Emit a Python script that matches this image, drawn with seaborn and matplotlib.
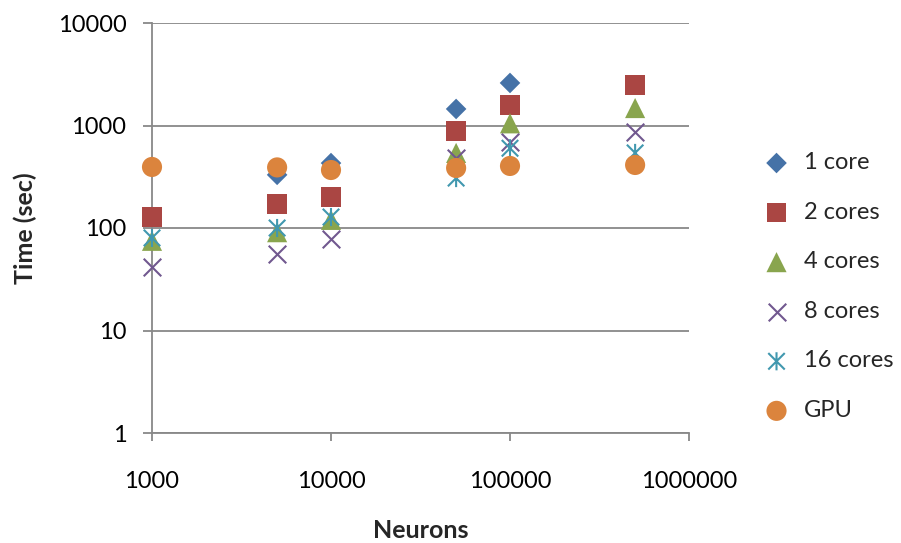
import numpy as np
import pandas as pd
import matplotlib
matplotlib.use("Agg")
import matplotlib.pyplot as plt
from matplotlib.path import Path
import seaborn as sns

# Problem sizes (number of neurons)
neurons = [1000, 5000, 10000, 50000, 100000, 500000]

# Run times in seconds per configuration (NaN = no measurement)
t_1core = [np.nan, 330, 430, 1450, 2600, np.nan]
t_2cores = [128, 171, 200, 884, 1590, 2480]
t_4cores = [75, 91, 120, 540, 1050, 1480]
t_8cores = [42, 56, 78, 480, 690, 865]
t_16cores = [80, 100, 128, 307, 600, 540]
t_gpu = [394, 390, 368, 385, 403, 412]

series_names = ["1 core", "2 cores", "4 cores", "8 cores", "16 cores", "GPU"]
series_values = [t_1core, t_2cores, t_4cores, t_8cores, t_16cores, t_gpu]

x_ticks = [1000, 10000, 100000, 1000000]
x_tick_labels = ["1000", "10000", "100000", "1000000"]
y_ticks = [1, 10, 100, 1000, 10000]
y_tick_labels = ["1", "10", "100", "1000", "10000"]

rows = []
for name, vals in zip(series_names, series_values):
    for n, v in zip(neurons, vals):
        rows.append({"Neurons": n, "Time": v, "Series": name})
df = pd.DataFrame(rows)

sns.set_theme(style="white")
plt.rcParams["font.family"] = ["Lato", "DejaVu Sans"]

# Asterisk marker: an X crossed by a vertical stroke
star_path = Path(
    [(-0.5, -0.5), (0.5, 0.5), (-0.5, 0.5), (0.5, -0.5), (0, -0.55), (0, 0.55)],
    [Path.MOVETO, Path.LINETO, Path.MOVETO, Path.LINETO, Path.MOVETO, Path.LINETO],
)

styles = {
    "1 core": dict(marker="D", color="#4572A7", s=110, linewidth=0),
    "2 cores": dict(marker="s", color="#AA4643", s=200, linewidth=0),
    "4 cores": dict(marker="^", color="#89A54E", s=210, linewidth=0),
    "8 cores": dict(marker="x", color="#71588F", s=160, linewidth=1.5),
    "16 cores": dict(marker=star_path, color="#4198AF", s=170, linewidth=1.5,
                     facecolor="none", edgecolor="#4198AF"),
    "GPU": dict(marker="o", color="#DB843D", s=210, linewidth=0),
}

fig = plt.figure(figsize=(9.01, 5.43), dpi=100)
ax = fig.add_axes([152 / 901, 1 - 433 / 543, (689 - 152) / 901, (433 - 23) / 543])

for name in series_names:
    sub = df[df["Series"] == name].dropna()
    st = dict(styles[name])
    if st["linewidth"] == 0:
        st["edgecolor"] = "none"
    sns.scatterplot(data=sub, x="Neurons", y="Time", ax=ax, label=name,
                    zorder=3, clip_on=False, **st)

ax.set_xscale("log")
ax.set_yscale("log")
ax.set_xlim(1000, 1000000)
ax.set_ylim(1, 10000)

grid_col = "#888888"
ax.yaxis.grid(True, color=grid_col, linewidth=1.3)
ax.xaxis.grid(False)
ax.set_axisbelow(True)
for side in ["top", "right"]:
    ax.spines[side].set_visible(False)
for side in ["left", "bottom"]:
    ax.spines[side].set_color(grid_col)
    ax.spines[side].set_linewidth(1.3)

ax.set_xticks(x_ticks)
ax.set_xticklabels(x_tick_labels)
ax.set_yticks(y_ticks)
ax.set_yticklabels(y_tick_labels)
ax.minorticks_off()
ax.tick_params(axis="x", which="major", direction="out", length=6, width=1.3,
               color=grid_col, labelsize=17, labelcolor="black", pad=21, bottom=True)
ax.tick_params(axis="y", which="major", direction="out", length=6.5, width=1.3,
               color=grid_col, labelsize=17, labelcolor="black", pad=12, left=True)

ax.set_xlabel("Neurons", fontsize=18, fontweight="bold", labelpad=20)
ax.set_ylabel("Time (sec)", fontsize=18, fontweight="bold", labelpad=15)

leg = ax.legend(loc="center left", bbox_to_anchor=(1.119, 0.357), frameon=False,
                fontsize=17, labelspacing=1.21, handletextpad=0.55,
                borderaxespad=0, handlelength=1.2)

fig.savefig("out.png", dpi=100)
